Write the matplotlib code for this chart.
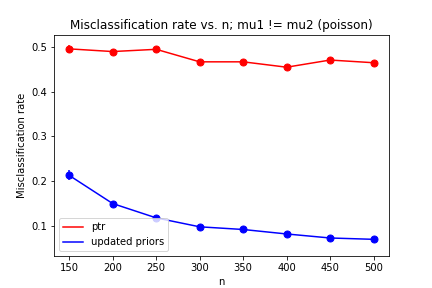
import numpy as np
import matplotlib
matplotlib.use("Agg")
import matplotlib.pyplot as plt

n_values = [150, 200, 250, 300, 350, 400, 450, 500]
ptr_rate = [0.496, 0.490, 0.495, 0.467, 0.467, 0.455, 0.471, 0.465]
ptr_err = [0.009, 0.005, 0.005, 0.004, 0.004, 0.004, 0.004, 0.004]
upd_rate = [0.213, 0.150, 0.118, 0.098, 0.092, 0.082, 0.073, 0.070]
upd_err = [0.011, 0.005, 0.005, 0.004, 0.004, 0.004, 0.003, 0.003]

fig = plt.figure(figsize=(6, 4), dpi=72)

# lines for legend, error bars with markers on top
plt.plot(n_values, ptr_rate, color="red", label="ptr")
plt.errorbar(n_values, ptr_rate, yerr=ptr_err, fmt="o", color="red", markersize=7)
plt.plot(n_values, upd_rate, color="blue", label="updated priors")
plt.errorbar(n_values, upd_rate, yerr=upd_err, fmt="o", color="blue", markersize=7)

plt.title("Misclassification rate vs. n; mu1 != mu2 (poisson)")
plt.xlabel("n")
plt.ylabel("Misclassification rate")
plt.ylim(0.032, 0.528)
plt.legend(loc="lower left")

plt.savefig("out.png")
